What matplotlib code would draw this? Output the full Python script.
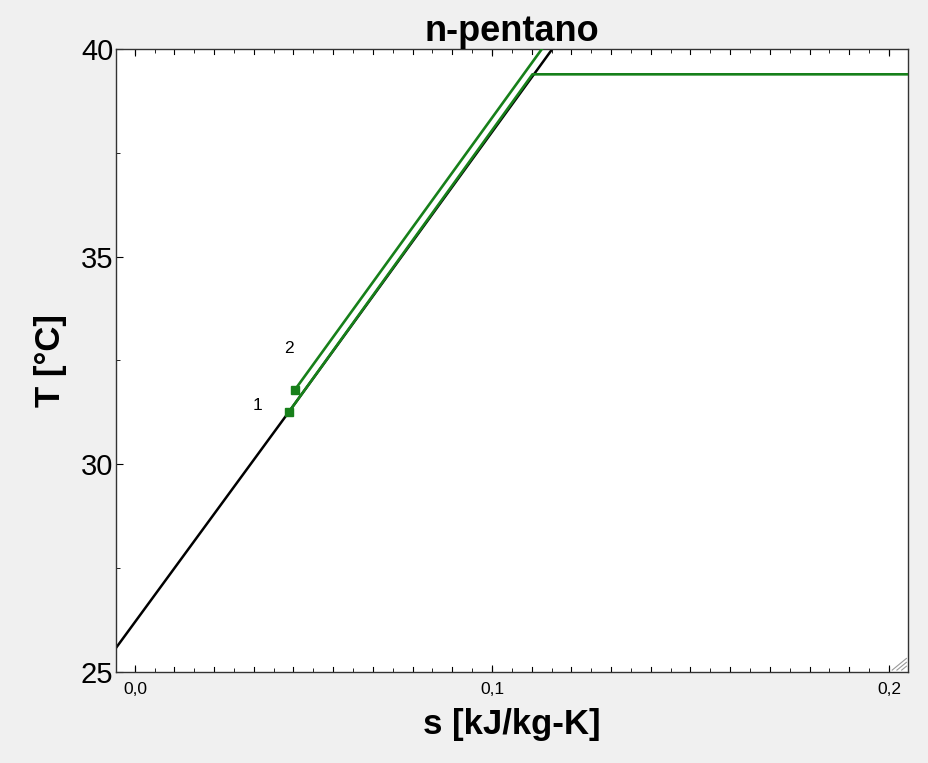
import numpy as np
import matplotlib.pyplot as plt
from matplotlib.ticker import MultipleLocator

# saturated liquid line (black)
s_liq = [0.0053, 0.0489, 0.1152, 0.1200]
T_liq = [25.58, 31.27, 40.00, 40.63]

# process lines (green)
s_low = [0.0489, 0.1102, 0.2100]
T_low = [31.27, 39.39, 39.39]
s_up = [0.0504, 0.1125, 0.1170]
T_up = [31.80, 39.99, 40.58]

# state points
pt_s = [0.0489, 0.0504]
pt_T = [31.27, 31.80]
pt_lbl = ['1', '2']

xtick_pos = [0.0101, 0.1, 0.2]
xtick_lbl = ['0,0', '0,1', '0,2']
ytick_pos = [25, 30, 35, 40]

GREEN = '#17801a'
BG = '#f0f0f0'

plt.rcParams['font.family'] = ['Liberation Sans', 'DejaVu Sans']

fig = plt.figure(figsize=(9.29, 7.63), dpi=100, facecolor=BG)
ax = fig.add_axes([0.1249, 0.1193, 0.8525, 0.8165])
ax.set_facecolor('white')

ax.plot(s_liq, T_liq, color='black', lw=1.8, zorder=2)
ax.plot(s_low, T_low, color=GREEN, lw=1.9, zorder=3)
ax.plot(s_up, T_up, color=GREEN, lw=1.9, zorder=3)
ax.plot(pt_s, pt_T, ls='none', marker='s', ms=6, color=GREEN, zorder=4)

ax.text(pt_s[0] - 0.008, pt_T[0] + 0.15, pt_lbl[0], fontsize=12.5, ha='center', va='center')
ax.text(pt_s[1] - 0.0015, pt_T[1] + 1.0, pt_lbl[1], fontsize=12.5, ha='center', va='center')

ax.set_xlim(0.0053, 0.2048)
ax.set_ylim(25, 40)

ax.set_xticks(xtick_pos)
ax.set_xticklabels(xtick_lbl, fontsize=12.5)
ax.xaxis.set_minor_locator(MultipleLocator(0.005))
ax.set_yticks(ytick_pos)
ax.set_yticklabels([str(v) for v in ytick_pos], fontsize=21)
ax.yaxis.set_minor_locator(MultipleLocator(2.5))

ax.tick_params(axis='x', which='both', direction='in', top=True, bottom=True, pad=7)
ax.tick_params(axis='x', which='major', length=5)
ax.tick_params(axis='x', which='minor', length=3)
ax.tick_params(axis='y', which='both', direction='in', left=True, right=False, pad=2)
ax.tick_params(axis='y', which='major', length=5)
ax.tick_params(axis='y', which='minor', length=3)
# extra major x ticks every 0.01 without labels
for xv in np.arange(0.01, 0.205, 0.01):
    ax.axvline(xv, ymin=0, ymax=0.008, color='black', lw=0.8)
    ax.axvline(xv, ymin=0.992, ymax=1, color='black', lw=0.8)

for sp in ax.spines.values():
    sp.set_color('#333333')
    sp.set_linewidth(1.0)

ax.set_title('n-pentano', fontsize=26, fontweight='bold', pad=1)
ax.set_xlabel('s [kJ/kg-K]', fontsize=25, fontweight='bold', labelpad=8)
ax.set_ylabel('T [°C]', fontsize=25, fontweight='bold', labelpad=10)

# resize grip in the corner
for k in range(3):
    d = 0.006 + k * 0.006
    ax.plot([1 - 0.002, 1 - 0.002 - d], [0.003 + d * 1.04, 0.003], transform=ax.transAxes,
            color='#999999', lw=0.8, clip_on=False)

fig.savefig('out.png', dpi=100, facecolor=BG)
